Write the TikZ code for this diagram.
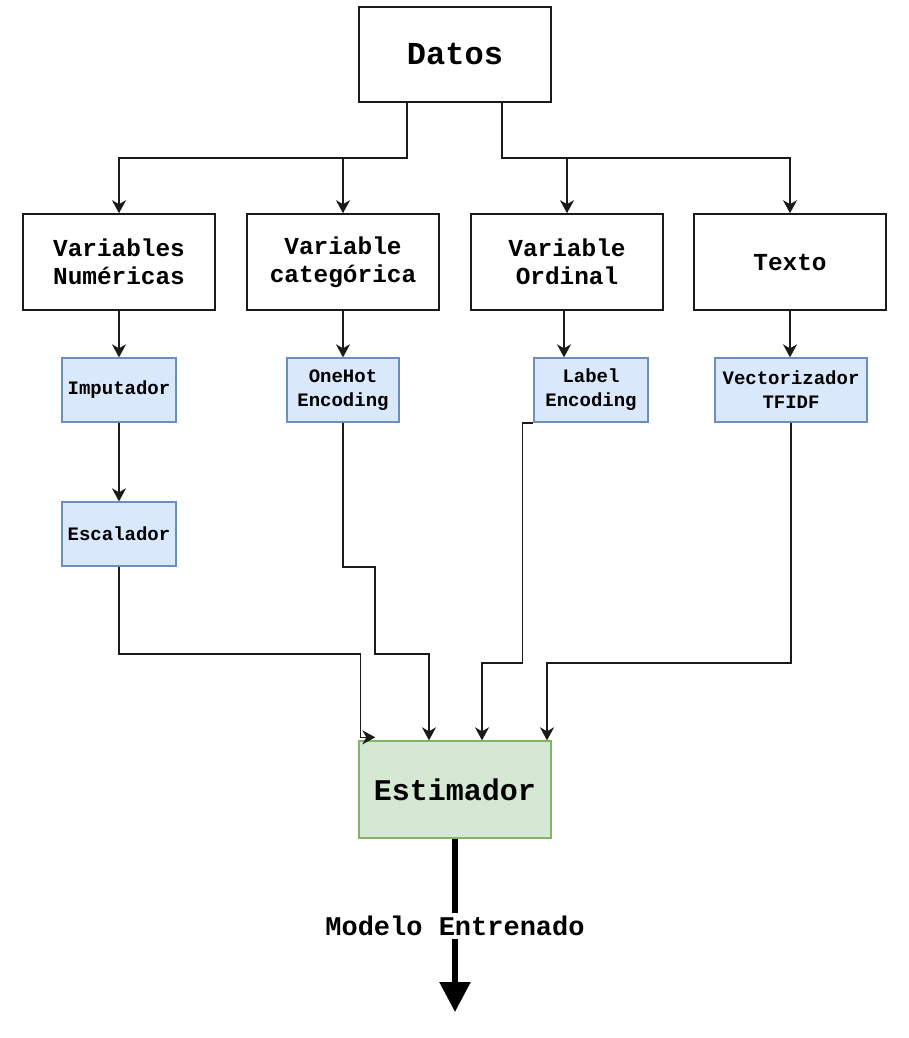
\documentclass[tikz,border=0pt]{standalone}
\usepackage{fontspec}
\setmonofont{Liberation Mono}
\usetikzlibrary{arrows.meta,calc}
\definecolor{bluefill}{HTML}{DAE8FC}
\definecolor{blueline}{HTML}{6C8EBF}
\definecolor{greenfill}{HTML}{D5E8D4}
\definecolor{greenline}{HTML}{82B366}
\definecolor{ink}{HTML}{1A1A1A}
\tikzset{
  bigbox/.style={draw=ink, line width=1.6pt, fill=white, minimum width=192pt, minimum height=96pt, inner sep=0pt, align=center,
     font=\ttfamily\bfseries\fontsize{24.4}{28.5}\selectfont},
  stepbox/.style={draw=blueline, line width=1.3pt, fill=bluefill, minimum height=64pt, inner sep=0pt, align=center,
     font=\ttfamily\bfseries\fontsize{19}{24}\selectfont},
  arr/.style={draw=ink, line width=1.7pt, -{Stealth[length=13pt,width=14pt,inset=4pt]}},
}
\begin{document}
\begin{tikzpicture}[x=1pt,y=-1pt]
\useasboundingbox (0,0) rectangle (908,1038);
% top
\node[bigbox, minimum height=95pt, font=\ttfamily\bfseries\fontsize{32}{36}\selectfont] (datos) at (455,54.5) {Datos};
% row 1
\node[bigbox] (v1) at (119,262) {Variables\\Numéricas};
\node[bigbox] (v2) at (343,262) {Variable\\categórica};
\node[bigbox] (v3) at (567,262) {Variable\\Ordinal};
\node[bigbox] (v4) at (790,262) {Texto};
% row 2
\node[stepbox, minimum width=114pt] (imp) at (119,390) {Imputador};
\node[stepbox, minimum width=112pt] (oh) at (343,390) {OneHot\\Encoding};
\node[stepbox, minimum width=114pt] (lab) at (591,390) {Label\\Encoding};
\node[stepbox, minimum width=152pt] (vec) at (791,390) {Vectorizador\\TFIDF};
\node[stepbox, minimum width=114pt] (esc) at (119,534) {Escalador};
% estimator
\node[draw=greenline, line width=1.3pt, fill=greenfill, minimum width=192pt, minimum height=97pt, inner sep=0pt,
      font=\ttfamily\bfseries\fontsize{30}{34}\selectfont] (est) at (455,789.5) {Estimador};
\coordinate (out) at (455,1012);
% connectors from Datos
\draw[arr] ([xshift=-48pt]datos.south) -- ++(0,55) -| (v1.north);
\draw[arr] ([xshift=-48pt]datos.south) -- ++(0,55) -| (v2.north);
\draw[arr] ([xshift=47pt]datos.south) -- ++(0,55) -| (v3.north);
\draw[arr] ([xshift=47pt]datos.south) -- ++(0,55) -| (v4.north);
% to transformers
\draw[arr] (v1.south) -- (imp.north);
\draw[arr] (v2.south) -- (oh.north);
\draw[arr] ([xshift=-3pt]v3.south) -- ([xshift=-3pt]v3.south |- lab.north);
\draw[arr] (v4.south) -- (v4.south |- vec.north);
\draw[arr] (imp.south) -- (esc.north);
% into estimator
\draw[arr] (esc.south) -- ++(0,87) -| ([xshift=2pt,yshift=3pt]est.north west) -- ++(15,0);
\draw[arr] (oh.south) -- ++(0,144) -- ++(32,0) -- ++(0,87) -| ([xshift=-26pt]est.north);
\draw[arr] (lab.south west) -- ++(-11,0) -- ++(0,240) -| ([xshift=27pt]est.north);
\draw[arr] (vec.south) -- ++(0,240) -| ([xshift=92pt]est.north);
% output
\draw[black, line width=5.5pt, -{Triangle[length=30pt,width=30pt]}] (est.south) -- (out);
\node[fill=white, inner xsep=2pt, inner ysep=3pt, font=\ttfamily\bfseries\fontsize{27}{30}\selectfont] (model) at (455,926) {Modelo Entrenado};
\end{tikzpicture}
\end{document}
